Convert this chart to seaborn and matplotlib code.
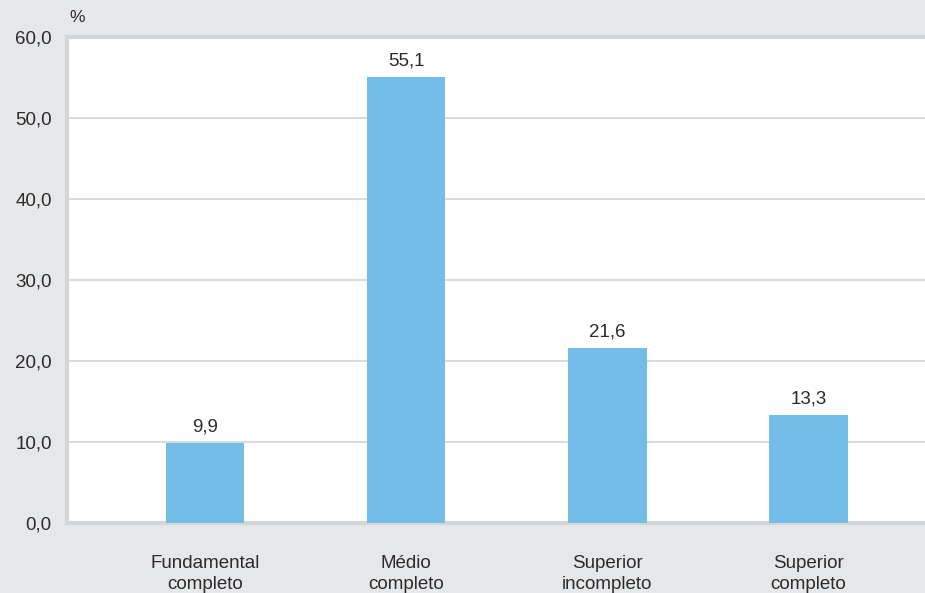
import numpy as np
import pandas as pd
import seaborn as sns
import matplotlib.pyplot as plt

# Data
categories = ['Fundamental\ncompleto', 'Médio\ncompleto', 'Superior\nincompleto', 'Superior\ncompleto']
values = [9.9, 55.1, 21.6, 13.3]
value_labels = ['9,9', '55,1', '21,6', '13,3']
yticks = [0, 10, 20, 30, 40, 50, 60]
ytick_labels = ['0,0', '10,0', '20,0', '30,0', '40,0', '50,0', '60,0']

df = pd.DataFrame({'cat': categories, 'val': values})

sns.set_style('white')
plt.rcParams['font.family'] = ['Liberation Sans', 'DejaVu Sans']

bg = '#e6e7e9'
border = '#d4d5d7'
text_col = '#2b2b2b'

fig = plt.figure(figsize=(9.25, 5.93), dpi=100, facecolor=bg)
ax = fig.add_axes([67 / 925, 1 - 523 / 593, 1 - 67 / 925, (523 - 37) / 593])
ax.set_facecolor('white')

sns.barplot(data=df, x='cat', y='val', color='#74bde8', width=0.39,
            saturation=1, linewidth=0, ax=ax, zorder=3)

ax.set_ylim(0, 60)
ax.set_xlim(-0.687, 3.58)
ax.set_yticks(yticks)
ax.set_yticklabels(ytick_labels)
ax.yaxis.grid(True, color='#dadbdd', linewidth=1.5, zorder=0)
ax.set_axisbelow(True)
ax.tick_params(axis='both', length=0, labelsize=13.5, colors=text_col)
ax.tick_params(axis='y', pad=11)
ax.tick_params(axis='x', pad=23)
for lbl in ax.get_xticklabels():
    lbl.set_linespacing(1.32)
ax.set_xlabel('')
ax.set_ylabel('')

for side in ['left', 'bottom', 'top']:
    ax.spines[side].set_visible(True)
    ax.spines[side].set_color(border)
    ax.spines[side].set_linewidth(3)
ax.spines['right'].set_visible(False)

for i, (v, t) in enumerate(zip(values, value_labels)):
    ax.annotate(t, (i, v), xytext=(0, 5.5), textcoords='offset points',
                ha='center', va='bottom', fontsize=13.5, color=text_col)

fig.text(69 / 925, 1 - 18 / 593, '%', ha='left', va='center', fontsize=12.5, color=text_col)

fig.savefig('out.png', dpi=100, facecolor=bg)
